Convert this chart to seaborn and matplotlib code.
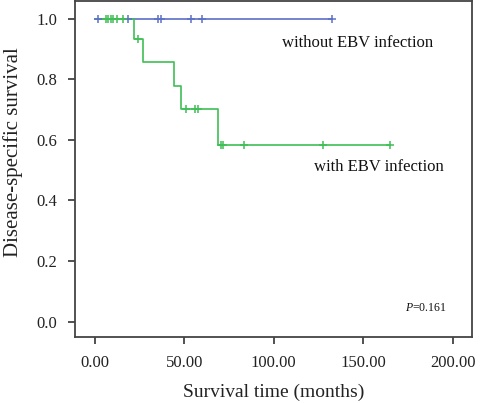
import numpy as np
import pandas as pd
import matplotlib
matplotlib.use("Agg")
import matplotlib.pyplot as plt
import seaborn as sns

# Step points of the Kaplan-Meier curves (months, survival)
ebv_times = [0, 22.0, 27.0, 44.2, 48.1, 69.0, 165.0]
ebv_surv = [1.0, 0.933, 0.857, 0.778, 0.700, 0.583, 0.583]
noebv_times = [0, 132.4]
noebv_surv = [1.0, 1.0]

# Censored observations
ebv_cens_t = [6.2, 7.4, 8.8, 9.9, 12.3, 15.5, 24.2, 50.7, 55.9, 57.4, 70.5, 71.5, 83.5, 127.7, 165.0]
ebv_cens_s = [1.0, 1.0, 1.0, 1.0, 1.0, 1.0, 0.933, 0.700, 0.700, 0.700, 0.583, 0.583, 0.583, 0.583, 0.583]
noebv_cens_t = [1.8, 18.6, 35.4, 36.9, 53.7, 59.7, 132.4]
noebv_cens_s = [1.0, 1.0, 1.0, 1.0, 1.0, 1.0, 1.0]

x_ticks = [0, 50, 100, 150, 200]
y_ticks = [0.0, 0.2, 0.4, 0.6, 0.8, 1.0]

blue = "#5b70c6"
green = "#3fbf55"

sns.set_style("ticks")
plt.rcParams["font.family"] = ["Liberation Serif", "DejaVu Serif"]
plt.rcParams["mathtext.fontset"] = "custom"
plt.rcParams["mathtext.it"] = "Liberation Serif:italic"
plt.rcParams["mathtext.rm"] = "Liberation Serif"

fig = plt.figure(figsize=(5.0, 4.03), dpi=100)
ax = fig.add_axes([0.15, 0.1638, 0.794, 0.8337])

# Curves
sns.lineplot(x=noebv_times, y=noebv_surv, drawstyle="steps-post", color=blue,
             linewidth=1.2, estimator=None, sort=False, ax=ax)
sns.lineplot(x=ebv_times, y=ebv_surv, drawstyle="steps-post", color=green,
             linewidth=1.2, estimator=None, sort=False, ax=ax)

# Censor marks
sns.scatterplot(x=noebv_cens_t, y=noebv_cens_s, marker="+", color=blue, s=30,
                linewidth=1.1, ax=ax, zorder=3)
sns.scatterplot(x=ebv_cens_t, y=ebv_cens_s, marker="+", color=green, s=30,
                linewidth=1.1, ax=ax, zorder=4)

ax.set_xlim(-11.2, 210.9)
ax.set_ylim(-0.051, 1.058)
ax.set_xticks(x_ticks)
ax.set_xticklabels([f"{v:.2f}" for v in x_ticks])
ax.set_yticks(y_ticks)
ax.set_yticklabels([f"{v:.1f}" for v in y_ticks])
ax.tick_params(axis="both", labelsize=12, length=5, width=1.2, color="#333333",
               pad=8, labelcolor="#222222")

for sp in ax.spines.values():
    sp.set_visible(True)
    sp.set_color("#444444")
    sp.set_linewidth(1.3)

ax.set_xlabel("Survival time (months)", fontsize=14, color="#222222", labelpad=9)
ax.set_ylabel("Disease-specific survival", fontsize=15, color="#222222")
ax.yaxis.set_label_coords(-0.13, 0.55)

ax.text(104.4, 0.919, "without EBV infection", fontsize=12, va="center", ha="left", color="#111111")
ax.text(122.7, 0.509, "with EBV infection", fontsize=12, va="center", ha="left", color="#111111")
ax.text(173.4, 0.045, "$P$=0.161", fontsize=8.5, va="center", ha="left", color="#111111")

fig.savefig("out.png", dpi=100)
